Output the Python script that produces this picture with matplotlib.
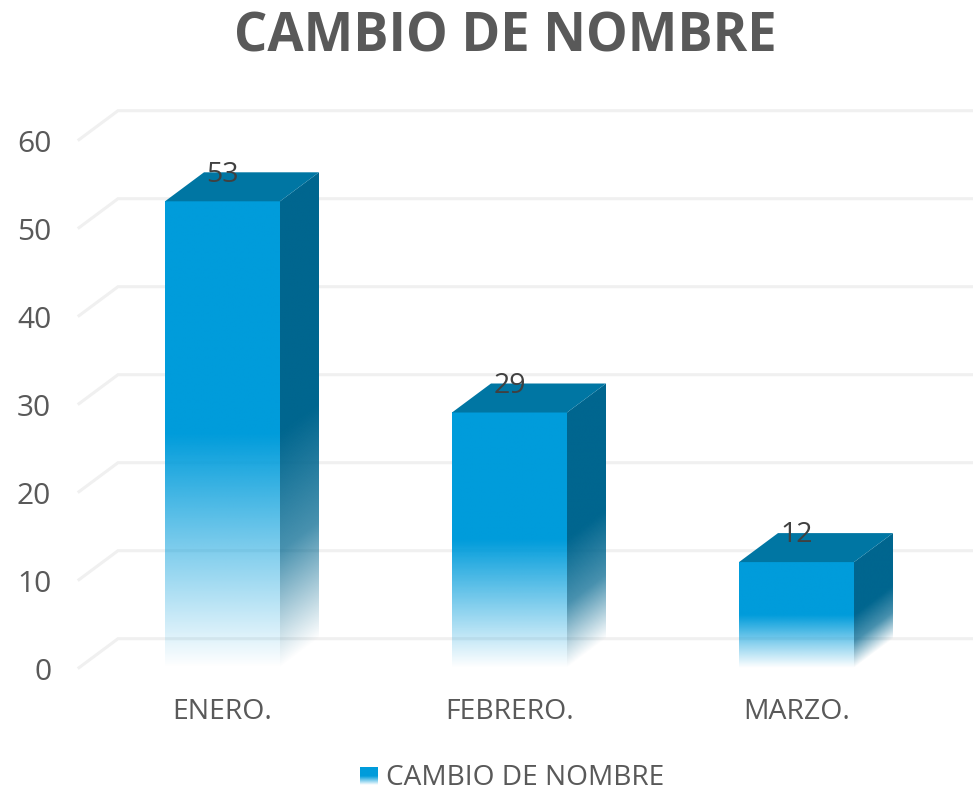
import numpy as np
import matplotlib
matplotlib.use('Agg')
import matplotlib.pyplot as plt
from matplotlib.patches import Polygon
from matplotlib.transforms import ScaledTranslation

plt.rcParams['font.family'] = ['Open Sans', 'DejaVu Sans']

title = 'CAMBIO DE NOMBRE'
months = ['ENERO.', 'FEBRERO.', 'MARZO.']
values = [53, 29, 12]
y_ticks = [0, 10, 20, 30, 40, 50, 60]

W, H = 973, 793
FRONT = '#009cdb'
TOP = '#0076a3'
SIDE = '#00668f'
GRID = '#f0f0f0'

# depth of the fake 3d box, in data units
DX = 39 / 287
DY = 29 / 8.8
HALF = 57.5 / 287


def rgba(color, alpha):
    rgb = np.array(matplotlib.colors.to_rgb(color))
    out = np.ones(alpha.shape + (4,))
    out[..., :3] = rgb
    out[..., 3] = alpha
    return out


def fade(t):
    # transparent at the bottom, solid from half way up
    return np.interp(t, [0, 0.5, 1], [0, 1, 1])


def fade_side(t):
    return np.interp(t, [0, 0.25, 0.5, 1], [0, 0.72, 1, 1])


fig = plt.figure(figsize=(W / 100, H / 100), dpi=100)
ax = fig.add_axes([79 / W, 1 - 667.7 / H, 861 / W, 528 / H])
for s in ax.spines.values():
    s.set_visible(False)

# floor/wall grid: short diagonal and then the back line
for t in y_ticks:
    ax.plot([-0.5, -0.5 + DX, 2.7], [t, t + DY, t + DY], color=GRID, lw=2.2,
            clip_on=False, zorder=1, solid_joinstyle='miter')

for i, v in enumerate(values):
    x0, x1 = i - HALF, i + HALF

    # front face
    t = np.linspace(1, 0, 300)[:, None]
    im = ax.imshow(rgba(FRONT, fade(t)), extent=[x0, x1, 0, v], aspect='auto',
                   interpolation='bilinear', zorder=3)
    im.set_clip_on(False)

    # side face, the fade follows the slanted depth lines
    xx, yy = np.meshgrid(np.linspace(0, DX, 80), np.linspace(v + DY, 0, 500))
    tt = (yy - xx / DX * DY) / v
    im = ax.imshow(rgba(SIDE, fade_side(tt)), extent=[x1, x1 + DX, 0, v + DY], aspect='auto',
                   interpolation='bilinear', zorder=3)
    im.set_clip_path(Polygon([(x1, 0), (x1 + DX, DY), (x1 + DX, v + DY), (x1, v)],
                             transform=ax.transData))

    # top face
    ax.add_patch(Polygon([(x0, v), (x1, v), (x1 + DX, v + DY), (x0 + DX, v + DY)],
                         facecolor=TOP, edgecolor='none', zorder=3, clip_on=False))

    ax.text(i, v + DY - 0.25, str(v), ha='center', va='center', fontsize=20.5,
            color='#404040', zorder=5)

ax.set_xlim(-0.5, 2.5)
ax.set_ylim(0, 60)
ax.set_xticks(range(len(months)))
ax.set_xticklabels(months)
ax.set_yticks(y_ticks)
ax.tick_params(axis='x', length=0, pad=22, labelsize=20.4, labelcolor='#595959')
ax.tick_params(axis='y', length=0, pad=20, labelsize=21.5, labelcolor='#595959')
shift = ScaledTranslation(0, -1.5 / 100, fig.dpi_scale_trans)
for lab in ax.get_yticklabels():
    lab.set_transform(lab.get_transform() + shift)

fig.text(505.5 / W, 1 - 38 / H, title, ha='center', va='center', fontsize=37.8,
         fontweight='bold', color='#595959')

# legend
lax = fig.add_axes([360 / W, 1 - 785 / H, 18 / W, 18 / H])
lax.imshow(rgba(FRONT, fade(np.linspace(1, 0, 60)[:, None])), aspect='auto',
           interpolation='bilinear')
lax.axis('off')
fig.text(386 / W, 1 - 778 / H, title, ha='left', va='center', fontsize=20.2,
         color='#595959')

fig.savefig('out.png', dpi=100)
